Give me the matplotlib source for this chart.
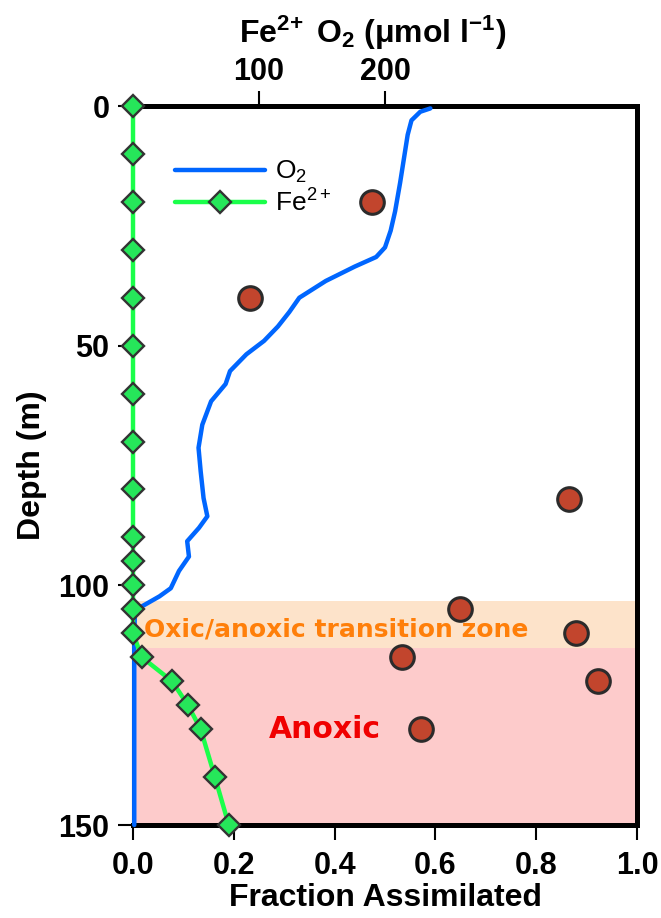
import matplotlib
matplotlib.use("Agg")
import matplotlib.pyplot as plt
from matplotlib.lines import Line2D

plt.rcParams['font.family'] = ['Liberation Sans', 'DejaVu Sans']
plt.rcParams['mathtext.fontset'] = 'custom'
plt.rcParams['mathtext.rm'] = 'Liberation Sans'
plt.rcParams['mathtext.it'] = 'Liberation Sans'
plt.rcParams['mathtext.bf'] = 'Liberation Sans:bold'

# ---- data ----
o2_depth = [0.5, 1.2, 3, 6, 11, 16, 22, 26, 29.5, 31.5, 33.5, 36.5, 40, 43, 46, 49,
            51.8, 55.3, 58, 61.6, 66.5, 71.3, 76.2, 81.8, 85.6, 88, 90.8, 94, 97,
            100.6, 102.3, 104.7, 106, 110, 150]
o2_conc = [236, 228, 221, 218, 215, 212, 208, 204.5, 200, 193, 176, 153, 132, 124, 115, 104,
           90, 77, 73.5, 62, 55, 52, 53.7, 56, 59, 52.4, 43, 44.4, 36.5,
           30, 21, 5, 1.5, 1, 1]

fe_depth = [0, 10, 20, 30, 40, 50, 60, 70, 80, 90, 95, 100, 105, 110,
            115, 120, 125, 130, 140, 150]
fe_conc = [0, 0, 0, 0, 0, 0, 0, 0, 0, 0, 0, 0, 0, 0,
           7, 31, 43.6, 53.7, 65, 76]

frac_depth = [20, 40, 82, 105, 110, 115, 120, 130]
frac_value = [0.474, 0.232, 0.865, 0.648, 0.879, 0.533, 0.923, 0.572]

bottom_ticks = [0.0, 0.2, 0.4, 0.6, 0.8, 1.0]
top_ticks = [100, 200]
depth_ticks = [0, 50, 100, 150]

transition_zone = (103.3, 113)
anoxic_zone = (113, 150)

# ---- figure ----
fig = plt.figure(figsize=(6.61, 9.18), dpi=100)
ax = fig.add_axes([133/661, 1-825/918, 504/661, 719/918])

ax.axhspan(*transition_zone, color='#fde3ca', lw=0, zorder=0)
ax.axhspan(*anoxic_zone, color='#fdcbcb', lw=0, zorder=0)

ax.scatter(frac_value, frac_depth, s=17**2, c='#c2452d', edgecolors='#2b2b2b',
           linewidths=2.2, zorder=5, clip_on=False)

ax.set_xlim(0, 1.0)
ax.set_ylim(150, 0)
ax.set_xticks(bottom_ticks)
ax.set_xticklabels([f"{t:.1f}" for t in bottom_ticks])
ax.set_yticks(depth_ticks)

ax.text(0.022, 109.3, 'Oxic/anoxic transition zone', family='DejaVu Sans',
        fontweight='bold', fontsize=18, color='#ff7f0a', ha='left', va='center', zorder=3)
ax.text(0.38, 130, 'Anoxic', family='DejaVu Sans', fontweight='bold', fontsize=21.5,
        color='#f00000', ha='center', va='center', zorder=3)

ax.set_xlabel('Fraction Assimilated', fontsize=23, fontweight='bold', labelpad=1)
ax.set_ylabel('Depth (m)', fontsize=23, fontweight='bold', labelpad=8)

for side in ['top', 'right', 'bottom']:
    ax.spines[side].set_linewidth(3.6)
ax.spines['left'].set_linewidth(1.5)
ax.tick_params(axis='both', which='major', labelsize=22, width=1.5, length=11,
               direction='out')
ax.tick_params(axis='x', pad=8)
ax.tick_params(axis='y', pad=6)
for lab in ax.get_xticklabels() + ax.get_yticklabels():
    lab.set_fontweight('bold')

ax2 = ax.twiny()
for s in ax2.spines.values():
    s.set_visible(False)
ax2.set_xlim(0, 400)
ax2.set_xticks(top_ticks)
ax2.tick_params(axis='x', labelsize=22, width=1.5, length=11, direction='out', pad=3)
for lab in ax2.get_xticklabels():
    lab.set_fontweight('bold')

ax2.plot(o2_conc, o2_depth, color='#0066ff', lw=3.2, solid_capstyle='round',
         solid_joinstyle='round', zorder=4, clip_on=False)
ax2.plot(fe_conc, fe_depth, color='#1aff4a', lw=3.2, marker='D', markersize=11.5,
         markerfacecolor='#26e65a', markeredgecolor='#333333', markeredgewidth=1.7,
         zorder=6, clip_on=False)

ax2.set_xlabel(r'Fe$^{\mathbf{2\!+}}$ O$_{\mathbf{2}}$ ($\mathbf{\mu}$mol l$^{\mathbf{-1}}$)',
               fontsize=23, fontweight='bold')
ax2.xaxis.label.set_va('baseline')
ax2.xaxis.set_label_coords(0.476, 1 + 63/719)

handles = [Line2D([], [], color='#0066ff', lw=3.2, solid_capstyle='round'),
           Line2D([], [], color='#1aff4a', lw=3.2, solid_capstyle='round', marker='D',
                  markersize=11.5, markerfacecolor='#26e65a', markeredgecolor='#333333',
                  markeredgewidth=1.7)]
ax2.legend(handles, [r'O$_2$', r'Fe$^{2+}$'], loc='upper left',
           bbox_to_anchor=(0.083, 0.926), frameon=False, fontsize=19,
           handlelength=3.4, handletextpad=0.4, borderpad=0, borderaxespad=0,
           labelspacing=0.15)

fig.savefig('out.png', dpi=100)
